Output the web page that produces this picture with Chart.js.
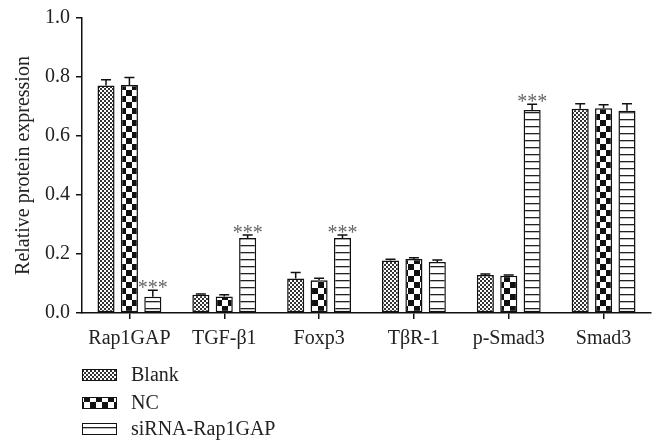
<!DOCTYPE html>
<html><head><meta charset="utf-8">
<script src="https://cdn.jsdelivr.net/npm/chart.js@4"></script>
<style>html,body{margin:0;padding:0;background:#fff}</style>
</head><body>
<canvas id="c" width="656" height="447" style="display:block;width:656px;height:447px"></canvas>
<script>
const categories = ['Rap1GAP','TGF-β1','Foxp3','TβR-1','p-Smad3','Smad3'];
const seriesNames = ['Blank','NC','siRNA-Rap1GAP'];
const blankValues = [0.771,0.062,0.117,0.178,0.129,0.692];
const ncValues    = [0.773,0.056,0.111,0.183,0.126,0.694];
const sirnaValues = [0.055,0.254,0.254,0.173,0.688,0.686];
const blankErrors = [0.020,0.002,0.020,0.004,0.003,0.017];
const ncErrors    = [0.025,0.006,0.007,0.004,0.003,0.012];
const sirnaErrors = [0.022,0.010,0.010,0.007,0.020,0.023];
const sirnaStars  = ['***','***','***','','***',''];
const yTicks = [0.0,0.2,0.4,0.6,0.8,1.0];

const FONT = '"Liberation Serif","DejaVu Serif",serif';

function makePattern(w,h,draw){
  const c=document.createElement('canvas');c.width=w;c.height=h;
  const g=c.getContext('2d');g.fillStyle='#fff';g.fillRect(0,0,w,h);draw(g);
  return document.getElementById('c').getContext('2d').createPattern(c,'repeat');
}
const patFine = makePattern(4,4,g=>{g.fillStyle='#333';g.fillRect(0,0,2,2);g.fillRect(2,2,2,2);});
const patCheck = makePattern(12,12,g=>{g.fillStyle='#111';g.fillRect(0,0,6,6);g.fillRect(6,6,6,6);});
const patLines = makePattern(6,7,g=>{g.fillStyle='#222';g.fillRect(0,0,6,1.3);});

const errSets=[blankErrors,ncErrors,sirnaErrors];
const starSets=[null,null,sirnaStars];

const errorBars={
  id:'errorBars',
  afterDatasetsDraw(chart){
    const ctx=chart.ctx, ys=chart.scales.y;
    ctx.save();
    chart.data.datasets.forEach((ds,i)=>{
      const meta=chart.getDatasetMeta(i);
      meta.data.forEach((bar,j)=>{
        const v=ds.data[j], e=errSets[i][j];
        const y0=ys.getPixelForValue(v), y1=ys.getPixelForValue(v+e);
        ctx.strokeStyle='#111';ctx.lineWidth=1.5;
        ctx.beginPath();ctx.moveTo(bar.x,y0);ctx.lineTo(bar.x,y1);
        ctx.moveTo(bar.x-5,y1);ctx.lineTo(bar.x+5,y1);ctx.stroke();
        const s=starSets[i]&&starSets[i][j];
        if(s){
          ctx.fillStyle='#666';ctx.font='20px '+FONT;ctx.textAlign='center';ctx.textBaseline='alphabetic';
          ctx.fillText(s,bar.x,y1+4);
        }
      });
    });
    ctx.restore();
  }
};

const legendPlugin={
  id:'customLegend',
  afterDraw(chart){
    const ctx=chart.ctx;
    ctx.save();
    const rows=[375,403,429];
    chart.data.datasets.forEach((ds,i)=>{
      const y=rows[i];
      ctx.fillStyle=ds.backgroundColor;
      ctx.fillRect(82,y-6,35,12);
      ctx.strokeStyle='#111';ctx.lineWidth=1;
      ctx.strokeRect(82.5,y-5.5,34,11);
      ctx.fillStyle='#222';ctx.font='20px '+FONT;ctx.textAlign='left';ctx.textBaseline='middle';
      ctx.fillText(ds.label,131,y+1);
    });
    ctx.restore();
  }
};

new Chart(document.getElementById('c'),{
  type:'bar',
  data:{
    labels:categories,
    datasets:[
      {label:seriesNames[0],data:blankValues,backgroundColor:patFine},
      {label:seriesNames[1],data:ncValues,backgroundColor:patCheck},
      {label:seriesNames[2],data:sirnaValues,backgroundColor:patLines}
    ].map(d=>Object.assign(d,{borderColor:'#111',borderWidth:1.5,borderSkipped:false,categoryPercentage:0.74,barPercentage:0.73}))
  },
  options:{
    responsive:false,animation:false,devicePixelRatio:1,
    layout:{padding:{top:9,right:5,bottom:84,left:0}},
    plugins:{legend:{display:false},tooltip:{enabled:false}},
    scales:{
      x:{
        afterFit(s){s.height=50;},
        grid:{drawOnChartArea:false,drawTicks:true,tickLength:6,color:'#111',offset:false,lineWidth:1.5},
        border:{color:'#111',width:1.5},
        ticks:{color:'#222',font:{family:FONT,size:20},padding:8,maxRotation:0,autoSkip:false}
      },
      y:{
        min:0,max:1,
        afterFit(s){s.width=82;},
        afterBuildTicks(s){s.ticks=yTicks.map(v=>({value:v}));},
        grid:{drawOnChartArea:false,drawTicks:true,tickLength:6,color:'#111',lineWidth:1.5},
        border:{color:'#111',width:1.5},
        ticks:{color:'#222',font:{family:FONT,size:20},padding:6,callback:v=>v.toFixed(1)},
        title:{display:true,text:'Relative protein expression',color:'#222',font:{family:FONT,size:20},padding:{top:12,bottom:0}}
      }
    }
  },
  plugins:[errorBars,legendPlugin]
});
</script>
</body></html>
